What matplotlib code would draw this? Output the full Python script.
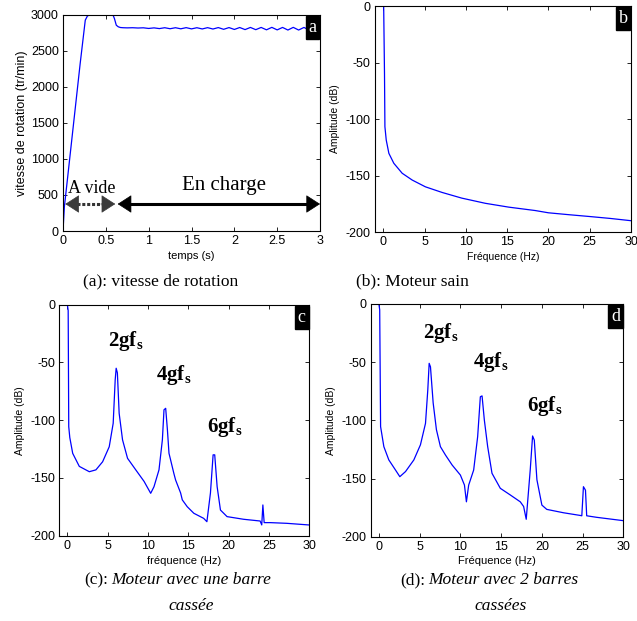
import matplotlib
matplotlib.use("Agg")
import matplotlib.pyplot as plt

plt.rcParams['font.family'] = ['Liberation Sans', 'DejaVu Sans']
plt.rcParams['axes.unicode_minus'] = False
plt.rcParams['mathtext.fontset'] = 'custom'
plt.rcParams['mathtext.bf'] = 'Liberation Serif:bold'
plt.rcParams['mathtext.rm'] = 'Liberation Serif'

# (a) vitesse de rotation
t_a = [0, 0.016, 0.05, 0.1, 0.15, 0.2, 0.26, 0.285, 0.31, 0.583, 0.6, 0.622, 0.645, 0.67, 0.7,
       0.75, 0.8125, 0.875, 0.9375, 1.0, 1.0625, 1.125, 1.1875, 1.25, 1.3125, 1.375, 1.4375,
       1.5, 1.5625, 1.625, 1.6875, 1.75, 1.8125, 1.875, 1.9375, 2.0, 2.0625, 2.125, 2.1875,
       2.25, 2.3125, 2.375, 2.4375, 2.5, 2.5625, 2.625, 2.6875, 2.75, 2.8125, 2.875, 2.9375, 3.0]
w_a = [0, 337, 700, 1240, 1780, 2320, 2927, 2985, 3000, 3000, 2950, 2857, 2835, 2825, 2822,
       2820, 2822, 2818, 2821, 2812, 2820, 2810, 2822, 2808, 2822, 2807, 2823,
       2806, 2822, 2805, 2823, 2804, 2824, 2800, 2824, 2798, 2825, 2796, 2826,
       2795, 2826, 2793, 2827, 2792, 2826, 2790, 2827, 2790, 2826, 2788, 2824, 2792]

# (b) moteur sain
f_b = [0.05, 0.15, 0.2, 0.36, 0.68, 1.28, 2.29, 3.5, 5.1, 7.13, 9.5, 12.36, 15.2, 18.4,
       20, 22.5, 25, 27.5, 30]
a_b = [0, -60, -106.8, -118.6, -130.4, -139.2, -148, -154, -160, -165, -170, -174.6, -178, -181,
       -183, -184.7, -186.3, -188, -190]

# (c) une barre cassee
f_c = [0, 0.1, 0.17, 0.3, 0.66, 1.48, 2.72, 3.54, 4.37, 5.19, 5.68, 5.93, 6.05, 6.2, 6.42,
       6.84, 7.46, 8.48, 9.51, 10.33, 10.74, 11.36, 11.78, 11.98, 12.19, 12.4, 12.6, 12.8, 13.2,
       13.42, 14.04, 14.25, 14.86, 15.68, 16.9, 17.3, 17.74, 18.07, 18.27, 18.57, 18.98, 19.8,
       21.85, 23.9, 24.1, 24.24, 24.4, 25.15, 27.2, 29.9, 30]
a_c = [0, -5, -105.6, -115, -128.7, -140, -144.6, -143, -136, -123, -102.7, -65, -55, -59, -94,
       -117, -133, -143, -153, -163.3, -157.6, -143, -117, -91, -89.7, -108, -128.7, -134.4, -146,
       -151.8, -163, -169, -174.9, -180.6, -185, -187.9, -163, -130, -130, -157.6, -177.8, -183.5,
       -185.8, -187.3, -190.7, -173.4, -188.7, -188.7, -189.3, -190.7, -190.7]

# (d) 2 barres cassees
f_d = [0, 0.1, 0.21, 0.61, 1.22, 2.04, 2.57, 3.27, 4.29, 5.1, 5.72, 6.0, 6.17, 6.33, 6.66,
       7.06, 7.55, 8.17, 8.99, 10.0, 10.5, 10.74, 11.02, 11.63, 12.12, 12.45, 12.66, 12.94, 13.35,
       13.88, 14.9, 16.1, 17.35, 17.76, 18.08, 18.57, 18.86, 19.07, 19.39, 20.0, 20.6, 22.65,
       24.7, 24.9, 25.1, 25.35, 25.5, 26.7, 30]
a_d = [0, -5, -105.4, -122.6, -134, -142.7, -148.4, -144, -134, -121, -102.6, -74, -51, -54, -85,
       -108, -122.6, -129.8, -138.4, -147, -155.6, -170, -155.6, -142.7, -114, -79.7, -79, -99.7, -122.6,
       -145.5, -158.4, -164, -170, -174, -185, -142.7, -113.4, -117, -151, -172.8, -176.5, -179.4,
       -181.7, -182, -157, -160, -182, -183.3, -186.2]

peak_labels = ['2gf', '4gf', '6gf']
peaks_c = [(7.2, -31), (13.2, -61), (19.5, -106)]
peaks_d = [(7.6, -25), (13.7, -50), (20.3, -88)]

blue = '#0000ff'
serif = ['Liberation Serif', 'DejaVu Serif']

fig = plt.figure(figsize=(6.37, 6.21), dpi=100)
ax_a = fig.add_axes([0.0989, 0.628, 0.4035, 0.348])
ax_b = fig.add_axes([0.5887, 0.6264, 0.4019, 0.3639])
ax_c = fig.add_axes([0.0931, 0.1374, 0.3925, 0.3719])
ax_d = fig.add_axes([0.582, 0.1357, 0.3966, 0.3748])


def style(ax, letter):
    ax.tick_params(direction='in', top=True, right=True, labelsize=9, length=3, width=0.6, pad=3)
    for s in ax.spines.values():
        s.set_linewidth(0.8)
    ax.annotate(letter, xy=(1, 1), xycoords='axes fraction', xytext=(-2.5, -3),
                textcoords='offset points', ha='right', va='top', color='white',
                fontsize=13, family=serif,
                bbox=dict(boxstyle='square,pad=0.15', fc='black', ec='black'))


# panel a
ax_a.plot(t_a, w_a, color=blue, lw=0.9)
ax_a.set_xlim(0, 3)
ax_a.set_ylim(0, 3000)
ax_a.set_xticks([0, 0.5, 1, 1.5, 2, 2.5, 3])
ax_a.set_xticklabels(['0', '0.5', '1', '1.5', '2', '2.5', '3'])
ax_a.set_yticks(range(0, 3001, 500))
ax_a.set_xlabel('temps (s)', fontsize=8, labelpad=3)
ax_a.set_ylabel('vitesse de rotation (tr/min)', fontsize=9, labelpad=2)
style(ax_a, 'a')

head = dict(arrowstyle='-|>,head_length=0.65,head_width=0.42', mutation_scale=14,
            shrinkA=0, shrinkB=0, lw=0.5)
ax_a.plot([0.1, 0.52], [375, 375], color='#333333', lw=2.2, ls=(0, (1, 0.6)))
ax_a.annotate('', xy=(0.027, 375), xytext=(0.2, 375),
              arrowprops=dict(head, color='#3a3a3a'))
ax_a.annotate('', xy=(0.61, 375), xytext=(0.44, 375),
              arrowprops=dict(head, color='#3a3a3a'))
ax_a.plot([0.75, 2.9], [375, 375], color='black', lw=2.2)
ax_a.annotate('', xy=(0.638, 375), xytext=(0.81, 375), arrowprops=dict(head, color='black'))
ax_a.annotate('', xy=(3.0, 375), xytext=(2.83, 375), arrowprops=dict(head, color='black'),
              annotation_clip=False)
ax_a.text(0.33, 590, 'A vide', family=serif, fontsize=13, ha='center', va='center')
ax_a.text(1.88, 637, 'En charge', family=serif, fontsize=15, ha='center', va='center')

# panel b
ax_b.plot(f_b, a_b, color=blue, lw=0.9)
ax_b.set_xlabel('Fréquence (Hz)', fontsize=7.5, labelpad=3)
style(ax_b, 'b')

# panel c
ax_c.plot(f_c, a_c, color=blue, lw=0.9)
ax_c.set_xlabel('fréquence (Hz)', fontsize=8, labelpad=3)
style(ax_c, 'c')
for lab, (x, y) in zip(peak_labels, peaks_c):
    ax_c.text(x, y, r'$\mathbf{' + lab + '_s}$', fontsize=15, ha='center', va='center')

# panel d
ax_d.plot(f_d, a_d, color=blue, lw=0.9)
ax_d.set_xlabel('Fréquence (Hz)', fontsize=8, labelpad=2)
style(ax_d, 'd')
for lab, (x, y) in zip(peak_labels, peaks_d):
    ax_d.text(x, y, r'$\mathbf{' + lab + '_s}$', fontsize=15, ha='center', va='center')

for ax in (ax_b, ax_c, ax_d):
    ax.set_xlim(-1, 30)
    ax.set_ylim(-200, 0)
    ax.set_xticks(range(0, 31, 5))
    ax.set_yticks([-200, -150, -100, -50, 0])
    ax.set_ylabel('Amplitude (dB)', fontsize=7.5, labelpad=4)

# captions
W, H = 637.0, 621.0
fig.text(161 / W, 1 - 281 / H, '(a): vitesse de rotation', family=serif, fontsize=12.5,
         ha='center', va='center')
fig.text(412 / W, 1 - 281 / H, '(b): Moteur sain', family=serif, fontsize=12.5,
         ha='center', va='center')
fig.text(108 / W, 1 - 580 / H, '(c):', family=serif, fontsize=12.5, ha='right', va='center')
fig.text(111 / W, 1 - 580 / H, 'Moteur avec une barre', family=serif, fontsize=12.5,
         style='italic', ha='left', va='center')
fig.text(191 / W, 1 - 606 / H, 'cassée', family=serif, fontsize=12.5, style='italic',
         ha='center', va='center')
fig.text(425 / W, 1 - 580 / H, '(d):', family=serif, fontsize=12.5, ha='right', va='center')
fig.text(428 / W, 1 - 580 / H, 'Moteur avec 2 barres', family=serif, fontsize=12.5,
         style='italic', ha='left', va='center')
fig.text(501 / W, 1 - 606 / H, 'cassées', family=serif, fontsize=12.5, style='italic',
         ha='center', va='center')

fig.savefig('out.png', dpi=100)
